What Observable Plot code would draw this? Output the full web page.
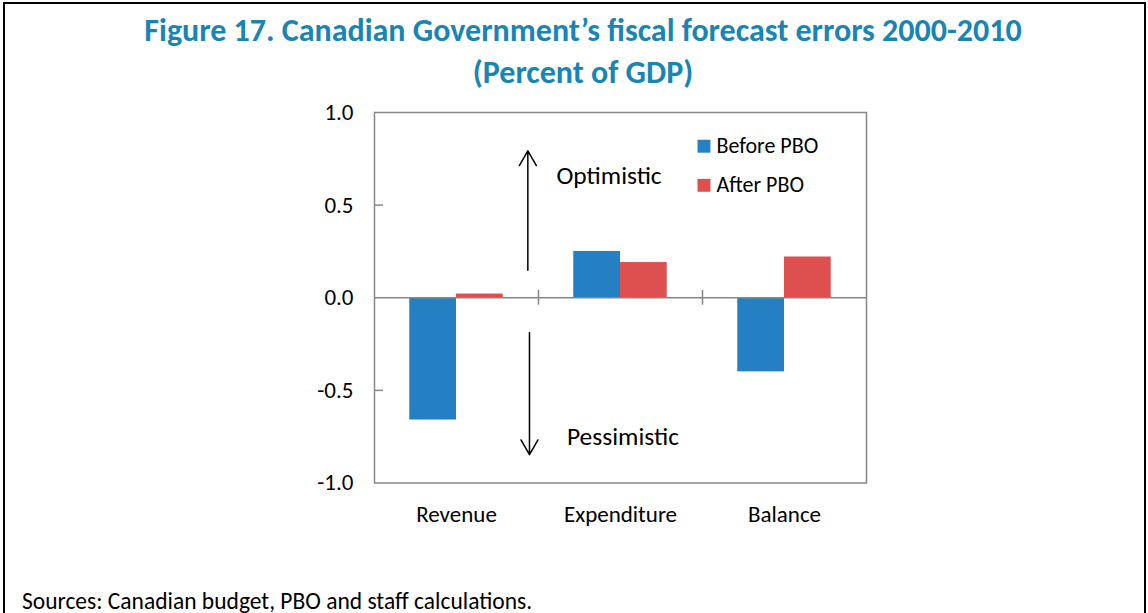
<!DOCTYPE html>
<html><head><meta charset="utf-8">
<script src="https://cdn.jsdelivr.net/npm/d3@7"></script>
<script src="https://cdn.jsdelivr.net/npm/@observablehq/plot@0.6"></script>
<style>
body{margin:0;width:1148px;height:613px;overflow:hidden;background:#fff;font-family:Carlito,Lato,sans-serif;position:relative}
#box{position:absolute;left:3px;top:2px;width:1139px;height:700px;border:2px solid #000}
#title{position:absolute;left:0;top:10px;width:1148px;padding-left:18px;box-sizing:border-box;text-align:center;color:#1985b4;font-weight:700;font-size:32px;line-height:42px;z-index:2}
#chart{position:absolute;left:0;top:80px}
#caption{position:absolute;left:22px;top:589px;font-size:23.5px;line-height:24px;color:#000;white-space:nowrap}
</style></head>
<body>
<div id="box"></div>
<div id="chart"></div>
<div id="title">Figure 17. Canadian Government’s fiscal forecast errors 2000-2010<br>(Percent of GDP)</div>
<div id="caption">Sources: Canadian budget, PBO and staff calculations.</div>
<script>
const categories = ["Revenue", "Expenditure", "Balance"];
const seriesNames = ["Before PBO", "After PBO"];
const beforePBO = [-0.66, 0.25, -0.40];
const afterPBO = [0.02, 0.19, 0.22];
const yTicks = [-1.0, -0.5, 0.0, 0.5, 1.0];
const seriesColors = ["#2480c2", "#de4f4f"];

const annotationTexts = ["Optimistic", "Pessimistic"];

const barW = 0.285;       // bar width as a fraction of a category slot
const axisGray = "#878787";

const rows = [];
categories.forEach((c, i) => {
  rows.push({cat: c, i, series: seriesNames[0], value: beforePBO[i], side: -1});
  rows.push({cat: c, i, series: seriesNames[1], value: afterPBO[i], side: 1});
});

const arrows = [
  {x1: 0.935, y1: 0.149, x2: 0.935, y2: 0.793},
  {x1: 0.945, y1: -0.187, x2: 0.945, y2: -0.847}
];
const labels = [
  {text: annotationTexts[0], x: 1.43, y: 0.658},
  {text: annotationTexts[1], x: 1.515, y: -0.75}
];
const legendRows = seriesNames.map((s, k) => ({series: s, k}));

const chart = Plot.plot({
  width: 1148,
  height: 460,
  marginLeft: 374,
  marginRight: 282,
  marginTop: 32,
  marginBottom: 57.5,
  style: {fontFamily: "Carlito, Lato, sans-serif", fontSize: "19px", color: "#000", background: "transparent"},
  x: {domain: [0, 3], axis: null},
  y: {domain: [-1, 1], axis: null},
  color: {domain: seriesNames, range: seriesColors},
  marks: [
    Plot.rectY(rows, {
      x1: d => d.i + 0.5 + (d.side < 0 ? -barW : 0),
      x2: d => d.i + 0.5 + (d.side < 0 ? 0 : barW),
      y1: 0, y2: "value", fill: "series"
    }),
    Plot.frame({stroke: axisGray, strokeWidth: 1.5}),
    Plot.ruleY([0], {stroke: axisGray, strokeWidth: 1.5}),
    Plot.ruleY([-0.5, 0.5], {x1: 0, x2: 0.055, stroke: axisGray, strokeWidth: 1.5}),
    Plot.ruleX([1, 2], {y1: -0.04, y2: 0.04, stroke: axisGray, strokeWidth: 1.5}),
    Plot.text(yTicks, {y: d => d, text: d => d.toFixed(1), frameAnchor: "left", textAnchor: "end", dx: -21, fontSize: 23, fill: "#000"}),
    Plot.text(categories, {x: (d, i) => i + 0.5, text: d => d, frameAnchor: "bottom", dy: 39, fontSize: 23, fill: "#000"}),
    Plot.arrow(arrows, {x1: "x1", y1: "y1", x2: "x2", y2: "y2", bend: 0, headLength: 17, headAngle: 60, stroke: "#000", strokeWidth: 1.5}),
    Plot.text(labels, {x: "x", y: "y", text: "text", fontSize: 25.5, fill: "#000"}),
    Plot.dot(legendRows, {x: 2.009, y: d => 0.818 - d.k * 0.211, symbol: "square", r: 7.3, fill: "series", stroke: null}),
    Plot.text(legendRows, {x: 2.085, y: d => 0.818 - d.k * 0.211, text: "series", textAnchor: "start", fontSize: 22, fill: "#000"})
  ]
});
document.getElementById("chart").appendChild(chart);
</script>
</body></html>
